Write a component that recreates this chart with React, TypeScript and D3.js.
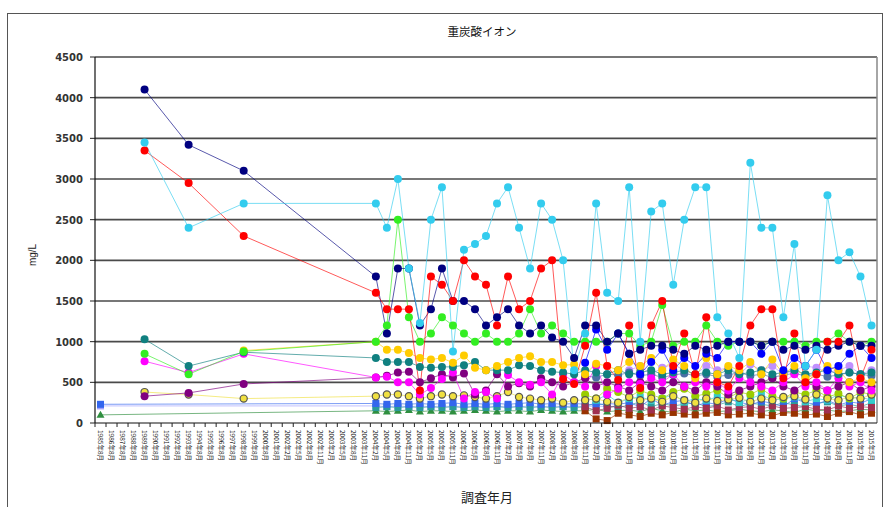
import React from "react";
import * as d3 from "d3";

const n = null;

const categories = [
  "1985年8月","1986年8月","1987年8月","1988年8月","1989年8月","1990年8月","1991年8月","1992年8月",
  "1993年8月","1994年8月","1995年8月","1996年8月","1997年8月","1998年8月","1999年8月","2000年8月",
  "2001年8月","2002年2月","2002年5月","2002年8月","2002年11月","2003年2月","2003年5月","2003年8月",
  "2003年11月","2004年2月","2004年5月","2004年8月","2004年11月","2005年2月","2005年5月","2005年8月",
  "2005年11月","2006年2月","2006年5月","2006年8月","2006年11月","2007年2月","2007年5月","2007年8月",
  "2007年11月","2008年2月","2008年5月","2008年8月","2008年11月","2009年2月","2009年5月","2009年8月",
  "2009年11月","2010年2月","2010年5月","2010年8月","2010年11月","2011年2月","2011年5月","2011年8月",
  "2011年11月","2012年2月","2012年5月","2012年8月","2012年11月","2013年2月","2013年5月","2013年8月",
  "2013年11月","2014年2月","2014年5月","2014年8月","2014年11月","2015年2月","2015年5月"
];

// category positions of the values: 4 sparse early surveys, then every category from 25 to 70
const earlyIdx = [0, 4, 8, 13];
const lateIdx = d3.range(25, 71);

const yTicks = [0, 500, 1000, 1500, 2000, 2500, 3000, 3500, 4000, 4500];

// each array: 4 early values, 23 values (idx 25-47), 23 values (idx 48-70)
const lavenderVals = [210, n, n, n,
  210,200,210,200,210, 200,210,200,210,200, 210,200,210,200,210, 200,210,200,210,200, 210,200,210,
  n,n,n,n,n, n,n,n,n,n, n,n,n,n,n, n,n,n,n,n, n,n,n];
const violetVals = [n, n, n, n,
  n,n,n,n,n, n,n,n,n,n, n,n,n,n,n, n,n,n,n,n, n,n,n,
  650,700,600,680,720, 650,600,700,650,680, 600,720,650,700,600, 650,700,680,620,650, 700,600,650];
const dkGreenVals = [100, n, n, n,
  150,140,150,160,140, 150,150,140,150,160, 150,140,150,150,140, 160,150,140,150,150, 170,140,150,
  160,140,180,150,130, 170,150,160,140,150, 170,150,140,160,150, 130,170,150,160,140, 150,170,160];
const tealSqVals = [n, n, n, n,
  190,200,190,200,190, 200,190,200,190,200, 190,200,190,200,190, 200,190,200,190,200, 250,210,190,
  220,260,200,240,210, 230,250,200,220,260, 200,240,230,210,250, 220,200,240,260,210, 230,200,250];
const blueSqVals = [230, n, n, n,
  240,230,240,230,240, 230,240,250,230,240, 230,240,230,240,250, 230,240,230,240,230, 220,240,230,
  250,200,300,220,260, 280,210,250,230,300, 260,220,270,240,200, 300,250,230,280,220, 260,240,300];
const brownVals = [n, n, n, n,
  n,n,n,n,n, n,n,n,n,n, n,n,n,n,n, n,n,n,n,150, 50,30,120,
  100,80,120,100,130, 110,100,120,130,100, 110,120,100,90,130, 120,100,110,80,120, 140,100,120];
const maroonVals = [n, n, n, n,
  n,n,n,n,n, n,n,n,n,n, n,n,n,n,n, n,n,n,n,200, 150,180,220,
  180,200,160,210,190, 170,200,180,210,160, 190,200,170,210,180, 190,200,170,160,210, 180,200,190];
const cyanSqVals = [n, n, n, n,
  n,n,n,n,n, n,n,n,n,n, n,n,n,n,n, n,n,n,n,300, 280,350,250,
  300,320,280,300,350, 260,300,280,320,300, 250,300,350,280,300, 320,260,300,280,350, 300,320,280];
const ygVals = [n, n, n, n,
  n,n,n,n,n, n,n,n,n,n, n,n,n,n,n, n,n,n,n,350, 300,420,380,
  320,400,350,300,380, 420,330,360,400,310, 380,350,420,330,300, 380,350,400,320,360, 300,380,350];
const ringVals = [n, 380, 350, 300,
  330,350,350,330,300, 330,350,330,340,320, 300,330,380,320,300, 280,300,250,280,280, 300,260,250,
  320,280,300,260,330, 280,250,300,270,290, 310,260,300,280,320, 330,290,350,300,280, 320,300,350];
const steelVals = [n, n, n, n,
  n,n,n,n,n, n,n,n,n,n, n,n,n,n,n, n,n,n,n,580, 560,600,590,
  620,580,600,560,590, 610,580,600,570,590, 620,580,600,560,590, 610,580,600,570,590, 620,600,580];
const purpleVals = [n, 330, 370, 480,
  560,580,620,630,500, 550,600,560,610,350, 400,600,450,490,450, 550,500,450,500,550, 450,500,450,
  400,500,450,400,500, 450,400,500,450,350, 400,450,500,550,450, 400,500,450,400,450, 500,400,450];
const magentaVals = [n, 760, 620, 850,
  560,570,500,500,350, 430,540,620,300,380, 380,300,590,500,470, 500,350,600,500,450, 700,350,420,
  500,480,550,500,600, 450,500,450,500,400, 550,500,450,400,500, 600,450,500,400,550, 450,500,400];
const tealVals = [n, 1030, 700, 870,
  800,750,750,750,690, 680,690,690,710,750, 650,650,650,710,700, 650,630,620,600,650, 620,600,650,
  600,620,650,600,620, 650,600,620,600,650, 600,620,650,600,620, 650,600,620,650,600, 620,600,620];
const goldVals = [n, n, n, 890,
  1000,900,900,860,800, 780,800,740,830,680, 650,700,750,800,820, 750,750,710,720,600, 730,700,650,
  750,700,800,650,780, 700,550,800,600,700, 650,750,600,780,600, 700,550,600,700,650, 500,550,500];
const greenVals = [n, 850, 600, 880,
  1000,1200,2500,1300,1000, 1100,1300,1200,1100,1000, 1100,1000,1000,1100,1400, 1100,1200,1100,1000,1000, 1000,1000,1100,
  1100,950,1000,1450,950, 1000,1000,1200,1000,950, 1000,1000,950,1000,1000, 1000,950,1000,1000,1100, 1000,950,1000];
const blueVals = [n, n, n, n,
  n,n,n,n,n, n,n,n,n,n, n,n,n,n,n, n,n,n,n,740, 1150,900,1100,
  850,600,750,900,650, 800,700,850,800,1000, 1000,1000,850,1000,650, 800,700,900,650,700, 850,950,800];
const navyVals = [n, 4100, 3420, 3100,
  1800,1100,1900,1900,1200, 1400,1900,1500,1500,1400, 1200,1300,1400,1200,1100, 1200,1050,1000,800,1200, 1200,1000,1100,
  850,900,950,950,900, 850,950,900,950,1000, 1000,1000,950,1000,900, 950,900,950,900,950, 1000,950,950];
const redVals = [n, 3350, 2950, 2300,
  1600,1400,1400,1400,400, 1800,1700,1500,2000,1800, 1700,1200,1800,1400,1500, 1900,2000,540,480,950, 1600,700,530,
  1200,430,1200,1500,700, 1100,600,1300,500,450, 700,1200,1400,1400,550, 1100,500,600,1000,1000, 1200,550,900];
const cyanVals = [n, 3450, 2400, 2700,
  2700,2400,3000,1900,1230, 2500,2900,880,2130,2200, 2300,2700,2900,2400,1900, 2700,2500,2000,650,1100, 2700,1600,1500,
  2900,1000,2600,2700,1700, 2500,2900,2900,1300,1100, 800,3200,2400,2400,1300, 2200,700,900,2800,2000, 2100,1800,1200];

type Marker = "circle" | "square" | "triangle";
const seriesDefs: { vals: (number | null)[]; color: string; marker: Marker; stroke?: string }[] = [
  { vals: lavenderVals, color: "#9f9fff", marker: "square" },
  { vals: dkGreenVals, color: "#2f8f3f", marker: "triangle" },
  { vals: tealSqVals, color: "#2a9a9a", marker: "square" },
  { vals: blueSqVals, color: "#3366ee", marker: "square" },
  { vals: brownVals, color: "#993300", marker: "square" },
  { vals: maroonVals, color: "#a03050", marker: "square" },
  { vals: cyanSqVals, color: "#33cccc", marker: "square" },
  { vals: ygVals, color: "#99cc00", marker: "circle" },
  { vals: ringVals, color: "#f0e040", marker: "circle", stroke: "#555" },
  { vals: violetVals, color: "#c090ff", marker: "circle" },
  { vals: steelVals, color: "#4a6fa5", marker: "circle" },
  { vals: purpleVals, color: "#800080", marker: "circle" },
  { vals: magentaVals, color: "#ff00ff", marker: "circle" },
  { vals: tealVals, color: "#108080", marker: "circle" },
  { vals: goldVals, color: "#ffcc00", marker: "circle" },
  { vals: greenVals, color: "#33ee22", marker: "circle" },
  { vals: blueVals, color: "#0000ff", marker: "circle" },
  { vals: navyVals, color: "#000080", marker: "circle" },
  { vals: redVals, color: "#ff0000", marker: "circle" },
  { vals: cyanVals, color: "#33ccee", marker: "circle" },
];

const W = 885, H = 507;
const plotL = 95, plotR = 877, plotT = 57, plotB = 423;

export default function App() {
  const x = d3.scaleBand<string>().domain(categories).range([plotL, plotR]).padding(0);
  const y = d3.scaleLinear().domain([0, 4500]).range([plotB, plotT]);
  const cx = (i: number) => (x(categories[i]) as number) + x.bandwidth() / 2;
  const allIdx = [...earlyIdx, ...lateIdx];

  const line = d3.line<[number, number]>().x(d => d[0]).y(d => d[1]);

  const series = seriesDefs.map(s => {
    const pts: [number, number][] = [];
    s.vals.forEach((v, k) => {
      if (v != null && k < allIdx.length) pts.push([cx(allIdx[k]), y(v)]);
    });
    return { ...s, pts };
  });

  const font = "'Liberation Sans', 'DejaVu Sans', sans-serif";
  const cjk = "'Noto Sans CJK JP', sans-serif";

  return (
    <svg width={W} height={H} style={{ position: "absolute", left: 0, top: 0, background: "#fff" }}>
      <rect x={0} y={0} width={W} height={H} fill="#fff" />
      <rect x={7.5} y={13.5} width={875} height={500} fill="none" stroke="#555" strokeWidth={1} />
      <text x={482} y={36} textAnchor="middle" fontFamily={cjk} fontSize={11.5} fill="#111">重炭酸イオン</text>

      {yTicks.map(t => (
        <g key={t}>
          {t > 0 && <line x1={plotL} x2={plotR} y1={y(t)} y2={y(t)} stroke="#4a4a4a" strokeWidth={1.6} />}
          <line x1={plotL - 5} x2={plotL} y1={y(t)} y2={y(t)} stroke="#222" strokeWidth={1} />
          <text x={83} y={y(t) + 4} textAnchor="end" fontFamily="'DejaVu Sans', sans-serif" fontWeight="bold" fontSize={10} fill="#333">{t}</text>
        </g>
      ))}
      <line x1={plotR} x2={plotR} y1={plotT} y2={plotB} stroke="#888" strokeWidth={1.5} />
      <text transform={`translate(36,255) rotate(-90)`} textAnchor="middle" fontFamily={font} fontSize={10} fill="#222">mg/L</text>

      {series.map((s, i) => (
        <path key={"l" + i} d={line(s.pts) || ""} fill="none" stroke={s.color} strokeWidth={1} strokeOpacity={0.65} />
      ))}
      {series.map((s, i) => (
        <g key={"m" + i}>
          {s.pts.map((p, j) => {
            if (s.marker === "square")
              return <rect key={j} x={p[0] - 3.5} y={p[1] - 3.5} width={7} height={7} fill={s.color} />;
            if (s.marker === "triangle")
              return <path key={j} d={`M${p[0]},${p[1] - 4}L${p[0] + 4},${p[1] + 3}L${p[0] - 4},${p[1] + 3}Z`} fill={s.color} />;
            return <circle key={j} cx={p[0]} cy={p[1]} r={s.stroke ? 3.6 : 4} fill={s.color} stroke={s.stroke || "none"} strokeWidth={s.stroke ? 1.2 : 0} />;
          })}
        </g>
      ))}

      <line x1={plotL} x2={plotL} y1={plotT} y2={plotB} stroke="#111" strokeWidth={1.2} />
      <line x1={plotL} x2={plotR} y1={plotB} y2={plotB} stroke="#111" strokeWidth={1.2} />
      {categories.map((c, i) => (
        <line key={"t" + i} x1={x(c) as number} x2={x(c) as number} y1={plotB} y2={plotB + 4} stroke="#222" strokeWidth={1} />
      ))}
      {categories.map((c, i) => (
        <text key={"c" + i} transform={`translate(${cx(i) - 2.5},${plotB + 7}) rotate(90)`} fontFamily={cjk} fontSize={6.5} fill="#222">{c}</text>
      ))}
      <text x={487} y={502} textAnchor="middle" fontFamily={cjk} fontSize={13} fill="#222">調査年月</text>
    </svg>
  );
}
